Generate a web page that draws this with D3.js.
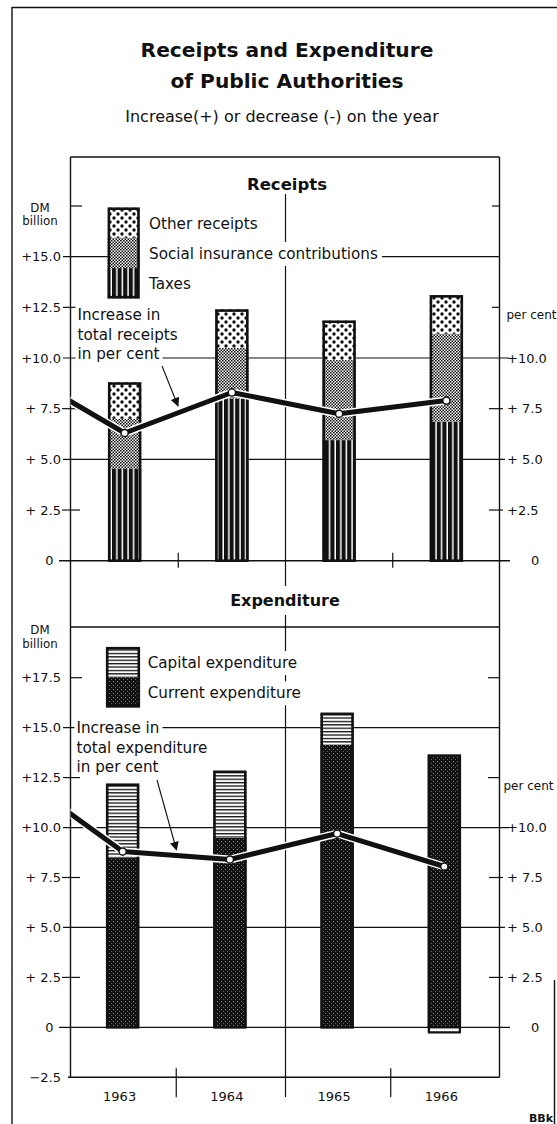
<!DOCTYPE html>
<html><head><meta charset="utf-8">
<script src="https://cdn.jsdelivr.net/npm/d3@7"></script>
<style>html,body{margin:0;padding:0;background:#fff;} svg{display:block;font-family:"DejaVu Sans",sans-serif;}</style>
</head><body><svg id="c" width="557" height="1124"></svg>
<script>
// ---------------- data ----------------
const years = ["1963", "1964", "1965", "1966"];
const taxes = [4.55, 8.0, 5.95, 6.85];
const socialInsurance = [2.45, 2.5, 3.95, 4.35];
const otherReceipts = [1.8, 1.9, 1.95, 1.9];
const receiptsPct = [6.3, 8.3, 7.25, 7.9];
const receiptsPctPrior = 9.4;       // 1962, only its segment into 1963 is visible
const currentExp = [8.5, 9.5, 14.15, 13.65];
const capitalExp = [3.7, 3.35, 1.6, -0.3];
const expenditurePct = [8.8, 8.4, 9.7, 8.05];
const expenditurePctPrior = 12.7;   // 1962
const receiptsTicks = [0, 2.5, 5, 7.5, 10, 12.5, 15, 17.5];
const receiptsLeftLabels = ["0", "+ 2.5", "+ 5.0", "+ 7.5", "+10.0", "+12.5", "+15.0", ""];
const receiptsRightLabels = ["0", "+2.5", "+ 5.0", "+ 7.5", "+10.0", "", "", ""];
const expTicks = [-2.5, 0, 2.5, 5, 7.5, 10, 12.5, 15, 17.5];
const expLeftLabels = ["\u22122.5", "0", "+ 2.5", "+ 5.0", "+ 7.5", "+10.0", "+12.5", "+15.0", "+17.5"];
const expRightLabels = ["", "0", "+ 2.5", "+ 5.0", "+ 7.5", "+10.0", "", "", ""];

// ---------------- setup ----------------
const svg = d3.select("#c");
const defs = svg.append("defs");
const K = "#111";

function pat(id, w, h, bg, draw) {
  const p = defs.append("pattern").attr("id", id).attr("patternUnits", "userSpaceOnUse")
    .attr("width", w).attr("height", h);
  p.append("rect").attr("width", w).attr("height", h).attr("fill", bg);
  draw(p);
}
pat("pOther", 8, 8, "#fff", p => {
  p.append("circle").attr("cx", 2).attr("cy", 2).attr("r", 1.7).attr("fill", K);
  p.append("circle").attr("cx", 6).attr("cy", 6).attr("r", 1.7).attr("fill", K);
});
pat("pSocial", 3, 3, "#fff", p => {
  p.append("rect").attr("x", 0).attr("y", 0).attr("width", 1.5).attr("height", 1.5).attr("fill", K);
  p.append("rect").attr("x", 1.5).attr("y", 1.5).attr("width", 1.5).attr("height", 1.5).attr("fill", K);
  p.append("rect").attr("x", 1.5).attr("y", 0).attr("width", 0.6).attr("height", 0.6).attr("fill", "#555");
});
pat("pTaxes", 5.6, 10, "#fff", p => {
  p.append("rect").attr("x", 0).attr("y", 0).attr("width", 4.1).attr("height", 10).attr("fill", K);
});
pat("pCapital", 10, 3.4, "#fff", p => {
  p.append("rect").attr("x", 0).attr("y", 0).attr("width", 10).attr("height", 1.3).attr("fill", K);
});
pat("pCurrent", 4, 4, K, p => {
  p.append("rect").attr("x", 1).attr("y", 1).attr("width", 1).attr("height", 1).attr("fill", "#8a8a8a");
  p.append("rect").attr("x", 3).attr("y", 3).attr("width", 1).attr("height", 1).attr("fill", "#6a6a6a");
});
defs.append("marker").attr("id", "arrow").attr("viewBox", "0 0 10 10").attr("refX", 9).attr("refY", 5)
  .attr("markerUnits", "userSpaceOnUse").attr("markerWidth", 11).attr("markerHeight", 9).attr("orient", "auto")
  .append("path").attr("d", "M0,0 L10,5 L0,10 Z").attr("fill", K);

function bgText(parent, x, y, str, size, opts = {}) {
  const g = parent.append("g");
  const r = g.append("rect").attr("fill", "#fff");
  const t = g.append("text").attr("x", x).attr("y", y).attr("font-size", size)
    .attr("font-weight", opts.bold ? "bold" : null).attr("text-anchor", opts.anchor || "start")
    .attr("fill", K).text(str);
  const b = t.node().getBBox();
  const pl = opts.padL != null ? opts.padL : 2, pr = opts.padR != null ? opts.padR : 3, pv = opts.padV != null ? opts.padV : 1;
  r.attr("x", b.x - pl).attr("y", b.y - pv).attr("width", b.width + pl + pr).attr("height", b.height + 2 * pv);
  return g;
}

// ---------------- scales ----------------
const xR = d3.scaleBand().domain(years).range([71, 500]).paddingInner(0.69).paddingOuter(0.345);
const xE = d3.scaleBand().domain(years).range([69, 498]).paddingInner(0.69).paddingOuter(0.345);
const yR = d3.scaleLinear().domain([0, 17.5]).range([560.7, 206]);
const yE = d3.scaleLinear().domain([-2.5, 17.5]).range([1077.3, 677.7]);
const AX = {left: 70.5, right: 499.5, mid: 285.5};

// ---------------- frame & titles ----------------
svg.append("line").attr("x1", 12).attr("x2", 12).attr("y1", 7).attr("y2", 1124).attr("stroke", K).attr("stroke-width", 1.4);
svg.append("line").attr("x1", 12).attr("x2", 557).attr("y1", 7.5).attr("y2", 7.5).attr("stroke", K).attr("stroke-width", 1.4);
svg.append("line").attr("x1", 554.5).attr("x2", 554.5).attr("y1", 980).attr("y2", 1124).attr("stroke", K).attr("stroke-width", 1.4);

svg.append("text").attr("x", 287).attr("y", 57).attr("text-anchor", "middle").attr("font-size", 20.2)
  .attr("font-weight", "bold").attr("fill", K).text("Receipts and Expenditure");
svg.append("text").attr("x", 287).attr("y", 88).attr("text-anchor", "middle").attr("font-size", 20.2)
  .attr("font-weight", "bold").attr("fill", K).text("of Public Authorities");
svg.append("text").attr("x", 282).attr("y", 122).attr("text-anchor", "middle").attr("font-size", 16)
  .attr("fill", K).text("Increase(+) or decrease (-) on the year");

// panel structure
const grid = svg.append("g").attr("stroke", K).attr("fill", "none");
grid.append("line").attr("x1", AX.left).attr("x2", AX.right).attr("y1", 157).attr("y2", 157).attr("stroke-width", 1.4);
grid.append("line").attr("x1", AX.left).attr("x2", AX.left).attr("y1", 157).attr("y2", yE(-2.5)).attr("stroke-width", 1.4);
grid.append("line").attr("x1", AX.right).attr("x2", AX.right).attr("y1", 157).attr("y2", yE(-2.5)).attr("stroke-width", 1.4);
grid.append("line").attr("x1", AX.mid).attr("x2", AX.mid).attr("y1", 194).attr("y2", 1097).attr("stroke-width", 1.2);
grid.append("line").attr("x1", AX.left).attr("x2", AX.right).attr("y1", 627).attr("y2", 627).attr("stroke-width", 1.3);
grid.append("line").attr("x1", 68).attr("x2", AX.right).attr("y1", yE(-2.5)).attr("y2", yE(-2.5)).attr("stroke-width", 1.4);

// horizontal ticks / gridlines
function hTicks(ticks, y, isExp) {
  ticks.forEach(v => {
    const yy = y(v);
    if (v === 0) {
      grid.append("line").attr("x1", 59).attr("x2", 510).attr("y1", yy).attr("y2", yy).attr("stroke-width", 1.4);
    } else if (v > 0 && v % 5 === 0) {
      grid.append("line").attr("x1", 63).attr("x2", v === 15 ? AX.right : (v === 10 ? 509 : 505)).attr("y1", yy).attr("y2", yy).attr("stroke-width", 1.2);
    } else if (v === 17.5) {
      grid.append("line").attr("x1", AX.left).attr("x2", 82).attr("y1", yy).attr("y2", yy).attr("stroke-width", 1.2);
      grid.append("line").attr("x1", isExp ? 488 : 492).attr("x2", AX.right).attr("y1", yy).attr("y2", yy).attr("stroke-width", 1.2);
    } else if (v === 12.5) {
      grid.append("line").attr("x1", 63).attr("x2", 80).attr("y1", yy).attr("y2", yy).attr("stroke-width", 1.2);
      grid.append("line").attr("x1", isExp ? 488 : 492).attr("x2", AX.right).attr("y1", yy).attr("y2", yy).attr("stroke-width", 1.2);
    } else if (v > 0) {
      grid.append("line").attr("x1", 62).attr("x2", 80).attr("y1", yy).attr("y2", yy).attr("stroke-width", 1.2);
      grid.append("line").attr("x1", 489).attr("x2", 503).attr("y1", yy).attr("y2", yy).attr("stroke-width", 1.2);
    }
  });
}
hTicks(receiptsTicks, yR, false);
hTicks(expTicks, yE, true);

// category boundary ticks
years.slice(1).forEach((yr, i) => {
  if (i === 1) return; // middle boundary is the full vertical divider
  const bx = xR.range()[0] + xR.step() * (i + 1);
  grid.append("line").attr("x1", bx).attr("x2", bx).attr("y1", yR(0) - 8).attr("y2", yR(0) + 7).attr("stroke-width", 1.2);
  const ex = xE.range()[0] + xE.step() * (i + 1);
  grid.append("line").attr("x1", ex).attr("x2", ex).attr("y1", yE(-2.5) - 9).attr("y2", yE(-2.5) + 20).attr("stroke-width", 1.2);
});

// ---------------- bars ----------------
const receiptsRows = years.map((y, i) => ({year: y, taxes: taxes[i], social: socialInsurance[i], other: otherReceipts[i]}));
const rStack = d3.stack().keys(["taxes", "social", "other"])(receiptsRows);
const rFill = {taxes: "url(#pTaxes)", social: "url(#pSocial)", other: "url(#pOther)"};
const barsR = svg.append("g");
rStack.forEach(s => {
  barsR.selectAll(null).data(s).join("rect")
    .attr("x", d => xR(d.data.year)).attr("width", xR.bandwidth())
    .attr("y", d => yR(d[1])).attr("height", d => yR(d[0]) - yR(d[1]))
    .attr("fill", rFill[s.key]);
});
barsR.selectAll(null).data(receiptsRows).join("rect")
  .attr("x", d => xR(d.year) + 1.2).attr("width", xR.bandwidth() - 2.4)
  .attr("y", d => yR(d.taxes + d.social + d.other) + 1.2)
  .attr("height", d => yR(0) - yR(d.taxes + d.social + d.other) - 1.2)
  .attr("fill", "none").attr("stroke", K).attr("stroke-width", 2.6);

const expRows = years.map((y, i) => ({year: y, current: currentExp[i], capital: capitalExp[i]}));
const eStack = d3.stack().keys(["current", "capital"]).offset(d3.stackOffsetDiverging)(expRows);
const eFill = {current: "url(#pCurrent)", capital: "url(#pCapital)"};
const barsE = svg.append("g");
eStack.forEach(s => {
  barsE.selectAll(null).data(s).join("rect")
    .attr("x", d => xE(d.data.year)).attr("width", xE.bandwidth())
    .attr("y", d => yE(Math.max(d[0], d[1]))).attr("height", d => Math.abs(yE(d[0]) - yE(d[1])))
    .attr("fill", eFill[s.key]);
});
// outlines: positive extent and negative extent
expRows.forEach(d => {
  const pos = Math.max(0, d.current) + Math.max(0, d.capital);
  const neg = Math.min(0, d.current) + Math.min(0, d.capital);
  barsE.append("rect").attr("x", xE(d.year) + 1.2).attr("width", xE.bandwidth() - 2.4)
    .attr("y", yE(pos) + 1.2).attr("height", yE(0) - yE(pos) - 1.2)
    .attr("fill", "none").attr("stroke", K).attr("stroke-width", 2.6);
  if (neg < 0) {
    barsE.append("rect").attr("x", xE(d.year) + 1.2).attr("width", xE.bandwidth() - 2.4)
      .attr("y", yE(0)).attr("height", yE(neg) - yE(0) - 1)
      .attr("fill", "#fff").attr("stroke", K).attr("stroke-width", 2.2);
  }
});

// ---------------- percent lines ----------------
function pctLine(x, y, vals, prior, clipId, x0, x1) {
  defs.append("clipPath").attr("id", clipId).append("rect")
    .attr("x", x0).attr("y", 0).attr("width", x1 - x0).attr("height", 1124);
  const c = d => x(d.year) + x.bandwidth() / 2;
  const pts = [{px: c({year: years[0]}) - x.step(), v: prior}]
    .concat(years.map((yr, i) => ({px: c({year: yr}), v: vals[i]})));
  const line = d3.line().x(d => d.px).y(d => y(d.v));
  const g = svg.append("g").attr("clip-path", `url(#${clipId})`);
  g.append("path").attr("d", line(pts)).attr("fill", "none").attr("stroke", "#fff").attr("stroke-width", 8).attr("stroke-linejoin", "round");
  g.append("path").attr("d", line(pts)).attr("fill", "none").attr("stroke", K).attr("stroke-width", 5).attr("stroke-linejoin", "round");
  g.selectAll("circle").data(pts.slice(1)).join("circle")
    .attr("cx", d => d.px).attr("cy", d => y(d.v)).attr("r", 3.6)
    .attr("fill", "#fff").attr("stroke", K).attr("stroke-width", 1.5);
}
pctLine(xR, yR, receiptsPct, receiptsPctPrior, "clipR", AX.left, AX.right);
pctLine(xE, yE, expenditurePct, expenditurePctPrior, "clipE", AX.left, AX.right);

// ---------------- panel titles ----------------
svg.append("text").attr("x", 287).attr("y", 190).attr("text-anchor", "middle").attr("font-size", 16.5)
  .attr("font-weight", "bold").attr("fill", K).text("Receipts");
bgText(svg, 285, 606, "Expenditure", 16, {bold: true, anchor: "middle", padV: 5, padL: 4, padR: 4});

// ---------------- legends ----------------
const legR = [
  {label: "Other receipts", fill: "url(#pOther)"},
  {label: "Social insurance contributions", fill: "url(#pSocial)"},
  {label: "Taxes", fill: "url(#pTaxes)"}
];
const legRTop = 207.5, legRH = 30.3, legRX = 107.7, legRW = 32;
legR.forEach((d, i) => {
  const yy = legRTop + i * legRH;
  svg.append("rect").attr("x", legRX).attr("y", yy).attr("width", legRW).attr("height", legRH).attr("fill", d.fill);
  bgText(svg, 149, yy + legRH / 2 + 6, d.label, 15.2, {padL: 9, padR: 4, padV: 3});
});
svg.append("rect").attr("x", legRX + 1.2).attr("y", legRTop + 1.2).attr("width", legRW - 2.4).attr("height", legRH * 3 - 2.4)
  .attr("fill", "none").attr("stroke", K).attr("stroke-width", 2.6);

const legE = [
  {label: "Capital expenditure", fill: "url(#pCapital)"},
  {label: "Current  expenditure", fill: "url(#pCurrent)"}
];
const legETop = 647, legEH = 30.2, legEX = 106, legEW = 34;
legE.forEach((d, i) => {
  const yy = legETop + i * legEH;
  svg.append("rect").attr("x", legEX).attr("y", yy).attr("width", legEW).attr("height", legEH).attr("fill", d.fill);
  bgText(svg, 147.7, yy + legEH / 2 + 6, d.label, 15.2, {padL: 7, padR: 4, padV: 3});
});
svg.append("rect").attr("x", legEX + 1.2).attr("y", legETop + 1.2).attr("width", legEW - 2.4).attr("height", legEH * 2 - 2.4)
  .attr("fill", "none").attr("stroke", K).attr("stroke-width", 2.6);

// ---------------- annotations ----------------
["Increase in", "total receipts", "in per cent"].forEach((t, i) =>
  bgText(svg, 77.5, 320 + i * 19.6, t, 15.2, {padL: 2, padR: 3, padV: 0}));
svg.append("line").attr("x1", 162).attr("y1", 366).attr("x2", 178).attr("y2", 406)
  .attr("stroke", K).attr("stroke-width", 1.1).attr("marker-end", "url(#arrow)");
["Increase in", "total expenditure", "in per cent"].forEach((t, i) =>
  bgText(svg, 76.5, 733 + i * 19.5, t, 15.2, {padL: 2, padR: 3, padV: 0}));
svg.append("line").attr("x1", 157).attr("y1", 780).attr("x2", 176.5).attr("y2", 850)
  .attr("stroke", K).attr("stroke-width", 1.1).attr("marker-end", "url(#arrow)");

// ---------------- axis labels ----------------
function axisLabels(ticks, labels, y, side) {
  ticks.forEach((v, i) => {
    const s = labels[i];
    if (!s) return;
    const t = svg.append("text").attr("y", y(v) + 4.6).attr("font-size", 13).attr("fill", K).text(s);
    if (side === "left") t.attr("x", v === 0 ? 53.5 : 61).attr("text-anchor", "end");
    else t.attr("x", v === 0 ? 531 : 507).attr("text-anchor", "start");
  });
}
axisLabels(receiptsTicks, receiptsLeftLabels, yR, "left");
axisLabels(receiptsTicks, receiptsRightLabels, yR, "right");
axisLabels(expTicks, expLeftLabels, yE, "left");
axisLabels(expTicks, expRightLabels, yE, "right");

[["DM", 211.5], ["billion", 225]].forEach(d => svg.append("text").attr("x", 40).attr("y", d[1])
  .attr("text-anchor", "middle").attr("font-size", 11.8).attr("fill", K).text(d[0]));
[["DM", 634], ["billion", 648]].forEach(d => svg.append("text").attr("x", 40).attr("y", d[1])
  .attr("text-anchor", "middle").attr("font-size", 11.8).attr("fill", K).text(d[0]));
svg.append("text").attr("x", 506.5).attr("y", 319).attr("font-size", 12).attr("fill", K).text("per cent");
svg.append("text").attr("x", 503.5).attr("y", 789.5).attr("font-size", 12).attr("fill", K).text("per cent");

svg.append("g").selectAll("text").data(years).join("text")
  .attr("x", d => xE(d) + xE.bandwidth() / 2 - 3).attr("y", 1101)
  .attr("text-anchor", "middle").attr("font-size", 13).attr("fill", K).text(d => d);

svg.append("text").attr("x", 553).attr("y", 1121.5).attr("text-anchor", "end").attr("font-size", 11)
  .attr("font-weight", "bold").attr("fill", K).text("BBk");
</script></body></html>
